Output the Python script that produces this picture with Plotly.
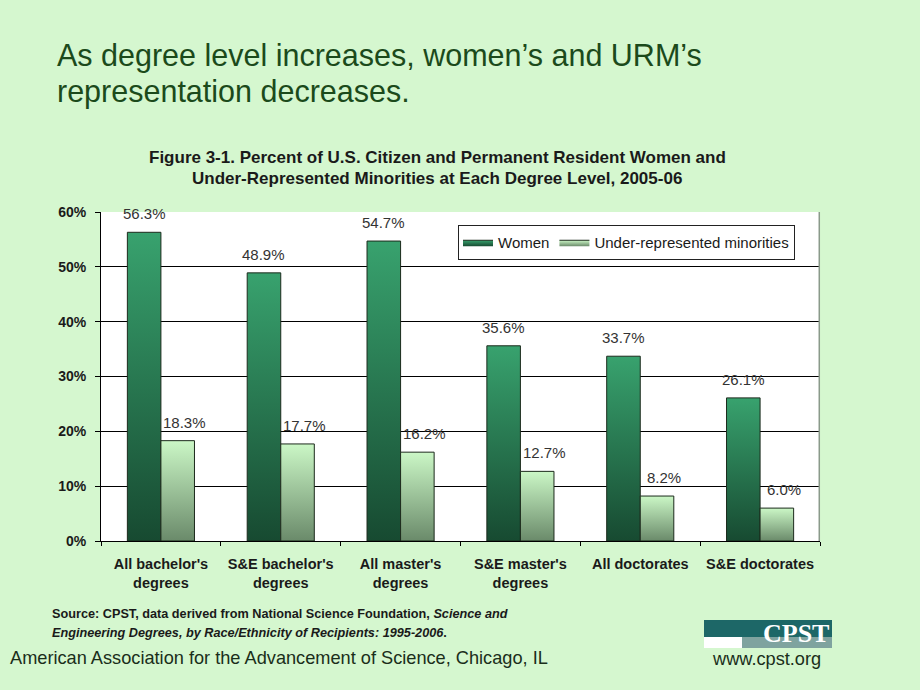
import plotly.graph_objects as go

# ---------------- data ----------------
categories = ["All bachelor's<br>degrees", "S&E bachelor's<br>degrees", "All master's<br>degrees",
              "S&E master's<br>degrees", "All doctorates", "S&E doctorates"]
women = [56.3, 48.9, 54.7, 35.6, 33.7, 26.1]
urm = [18.3, 17.7, 16.2, 12.7, 8.2, 6.0]
series_names = ["Women", "Under-represented minorities"]
y_ticks = [0, 10, 20, 30, 40, 50, 60]
y_ticklabels = ["0%", "10%", "20%", "30%", "40%", "50%", "60%"]

# ---------------- layout geometry (pixels) ----------------
W, H = 920, 690
PL, PR, PT, PB = 101, 820, 212, 541


def px(x):
    return (x - PL) / (PR - PL)


def py(y):
    return (PB - y) / (PB - PT)


FONT = "Liberation Sans, Arial"
BAR_W = 0.28
women_grad = [[0, "#174a31"], [1, "#38a26e"]]
urm_grad = [[0, "#6a8a6a"], [1, "#cbf7c6"]]

fig = go.Figure()

for s_idx, (vals, grad) in enumerate([(women, women_grad), (urm, urm_grad)]):
    for i, v in enumerate(vals):
        x0 = i - BAR_W if s_idx == 0 else i
        x1 = x0 + BAR_W
        fig.add_trace(go.Scatter(
            x=[x0, x1, x1, x0, x0], y=[0, 0, v, v, 0],
            mode="lines", fill="toself",
            fillgradient=dict(type="vertical", colorscale=grad),
            line=dict(color="#1c2a1c", width=1),
            name=series_names[s_idx], legendgroup=series_names[s_idx],
            showlegend=(i == 0), hoverinfo="skip",
        ))

annotations = []
for s_idx, vals in enumerate([women, urm]):
    for i, v in enumerate(vals):
        cx = i - BAR_W / 2 if s_idx == 0 else i + BAR_W / 2 + 0.06
        annotations.append(dict(x=cx, y=v, xref="x", yref="y", text=f"{v:.1f}%",
                                showarrow=False, yanchor="bottom", yshift=8,
                                font=dict(family=FONT, size=15, color="#333333")))

title_font = dict(family=FONT, size=30.5, color="#1b4a1b")
annotations += [
    dict(x=px(55), y=py(55), xref="paper", yref="paper", xanchor="left", yanchor="middle",
         text="As degree level increases, women’s and URM’s", showarrow=False, font=title_font),
    dict(x=px(55), y=py(92), xref="paper", yref="paper", xanchor="left", yanchor="middle",
         text="representation decreases.", showarrow=False, font=title_font),
    dict(x=px(437), y=py(157), xref="paper", yref="paper", xanchor="center", yanchor="middle",
         text="Figure 3-1. Percent of U.S. Citizen and Permanent Resident Women and",
         showarrow=False, font=dict(family=FONT, size=17, color="#1a1a1a", weight="bold")),
    dict(x=px(437), y=py(178), xref="paper", yref="paper", xanchor="center", yanchor="middle",
         text="Under-Represented Minorities at Each Degree Level, 2005-06",
         showarrow=False, font=dict(family=FONT, size=17, color="#1a1a1a", weight="bold")),
    dict(x=px(50), y=py(614), xref="paper", yref="paper", xanchor="left", yanchor="middle",
         text="Source: CPST, data derived from National Science Foundation, <i>Science and</i>",
         showarrow=False, font=dict(family=FONT, size=12.7, color="#1a1a1a", weight="bold")),
    dict(x=px(50), y=py(633), xref="paper", yref="paper", xanchor="left", yanchor="middle",
         text="<i>Engineering Degrees, by Race/Ethnicity of Recipients: 1995-2006</i>.",
         showarrow=False, font=dict(family=FONT, size=12.7, color="#1a1a1a", weight="bold")),
    dict(x=px(8), y=py(658), xref="paper", yref="paper", xanchor="left", yanchor="middle",
         text="American Association for the Advancement of Science, Chicago, IL",
         showarrow=False, font=dict(family=FONT, size=18.2, color="#1a2e1a")),
    dict(x=px(710), y=py(659), xref="paper", yref="paper", xanchor="left", yanchor="middle",
         text="www.cpst.org",
         showarrow=False, font=dict(family=FONT, size=18.2, color="#1a2e1a")),
    dict(x=px(831), y=py(633), xref="paper", yref="paper", xanchor="right", yanchor="middle",
         text="CPST", showarrow=False,
         font=dict(family="Liberation Serif, Times New Roman", size=26, color="#ffffff", weight="bold")),
]

shapes = [
    dict(type="line", xref="paper", yref="paper", x0=0.999, x1=0.999, y0=0, y1=1,
         line=dict(color="#8a9a8a", width=1.5)),
    dict(type="rect", xref="paper", yref="paper", x0=px(704), x1=px(832), y0=py(648), y1=py(620),
         fillcolor="#7fa39f", line=dict(width=0), layer="below"),
    dict(type="rect", xref="paper", yref="paper", x0=px(704), x1=px(832), y0=py(637), y1=py(620),
         fillcolor="#1d6767", line=dict(width=0), layer="below"),
    dict(type="rect", xref="paper", yref="paper", x0=px(704), x1=px(742), y0=py(648), y1=py(637),
         fillcolor="#ffffff", line=dict(width=0), layer="below"),
]

fig.update_layout(
    width=W, height=H,
    margin=dict(l=PL, r=W - PR, t=PT, b=H - PB, pad=0),
    paper_bgcolor="#d5f7cf", plot_bgcolor="#ffffff",
    showlegend=True,
    legend=dict(orientation="h", x=px(795), xanchor="right", y=py(225), yanchor="top",
                bgcolor="#ffffff", bordercolor="#222222", borderwidth=1,
                font=dict(family=FONT, size=15, color="#1a1a1a"),
                itemwidth=30, tracegroupgap=0),
    xaxis=dict(range=[-0.5, 5.5], tickvals=list(range(len(categories))), ticktext=categories,
               showgrid=False, zeroline=False, showline=True, linecolor="#000000", linewidth=1,
               ticks="", ticklabelstandoff=10,
               tickfont=dict(family=FONT, size=14.5, color="#1a1a1a", weight="bold"),
               minor=dict(tick0=0.5, dtick=1, ticks="outside", ticklen=4, tickcolor="#000000"),
               fixedrange=True),
    yaxis=dict(range=[0, 60], tickvals=y_ticks, ticktext=y_ticklabels,
               showgrid=True, gridcolor="#000000", gridwidth=1, zeroline=False,
               showline=True, linecolor="#000000", linewidth=1,
               ticks="outside", ticklen=5, tickcolor="#000000", ticklabelstandoff=6,
               tickfont=dict(family=FONT, size=14, color="#1a1a1a", weight="bold"),
               fixedrange=True),
    annotations=annotations, shapes=shapes,
    font=dict(family=FONT),
)

fig.write_html("out.html", config={"displayModeBar": False},
               post_script="document.body.style.margin='0px';document.body.style.padding='0px';")
